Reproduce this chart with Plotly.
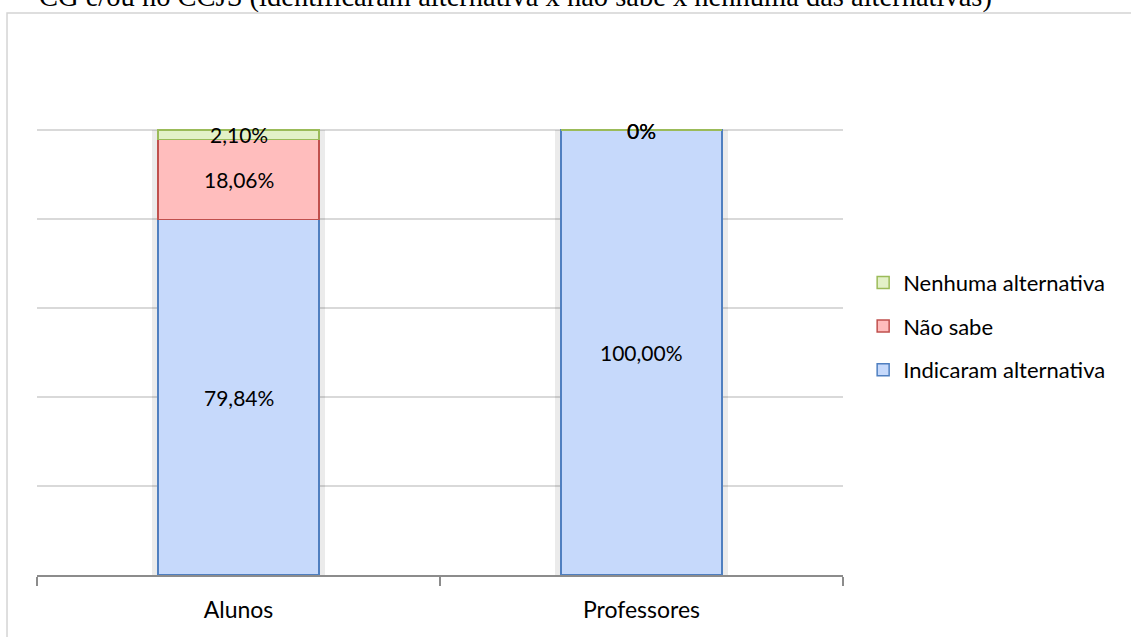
import plotly.graph_objects as go

categories = ["Alunos", "Professores"]
series_names = ["Indicaram alternativa", "Não sabe", "Nenhuma alternativa"]
indicaram = [79.84, 100.00]
nao_sabe = [18.06, 0.0]
nenhuma = [2.10, 0.0]
label_indicaram = ["79,84%", "100,00%"]
label_nao_sabe = ["18,06%", "0%"]
label_nenhuma = ["2,10%", "0%"]
title_text = "CG e/ou no CCJS (identificaram alternativa x não sabe x nenhuma das alternativas)"

values = [indicaram, nao_sabe, nenhuma]
labels = [label_indicaram, label_nao_sabe, label_nenhuma]
fills = ["#c6d9fb", "#ffbdbd", "#e3f1c8"]
lines = ["#4f7fc0", "#c0504d", "#9bbb59"]
ranks = [3, 2, 1]

FONT = "Lato"
fig = go.Figure()

# soft shadow behind the stacked bars (totals), on the lower axis layer
totals = [sum(v[i] for v in values) for i in range(len(categories))]
fig.add_trace(go.Bar(x=categories, y=totals, xaxis="x", width=0.43,
                     marker=dict(color="rgba(0,0,0,0.08)", line=dict(width=0)),
                     showlegend=False, hoverinfo="skip"))

for k, name in enumerate(series_names):
    fig.add_trace(go.Bar(
        x=categories, y=values[k], name=name, width=0.4, xaxis="x2",
        marker=dict(color=fills[k], line=dict(color=lines[k], width=1.5)),
        legendgroup=name, legendrank=ranks[k],
    ))

annotations = []
for i, cat in enumerate(categories):
    base = 0
    for k in range(len(series_names)):
        v = values[k][i]
        annotations.append(dict(x=cat, y=base + v / 2, xref="x", yref="y",
                                text=labels[k][i], showarrow=False,
                                font=dict(family=FONT, size=21, color="#000000")))
        base += v

annotations.append(dict(x=0, y=1.083, xref="paper", yref="paper", xanchor="left",
                        yanchor="middle", text=title_text, showarrow=False,
                        font=dict(family="Liberation Serif", size=28.5, color="#000000"),
                        ))

fig.update_layout(
    width=1131, height=637,
    margin=dict(l=37, r=288, t=41, b=62),
    paper_bgcolor="white", plot_bgcolor="white",
    barmode="stack",
    showlegend=True,
    legend=dict(x=1.025, y=0.466, xanchor="left", yanchor="middle",
                traceorder="grouped", tracegroupgap=12,
                font=dict(family=FONT, size=22, color="#000000")),
    xaxis=dict(type="category", showline=True, linecolor="#8c8c8c", linewidth=1.5,
               ticks="outside", ticklen=9, tickcolor="#8c8c8c", tickwidth=1.5,
               tickson="boundaries", showgrid=False, ticklabelstandoff=14,
               tickfont=dict(family=FONT, size=23, color="#000000")),
    xaxis2=dict(type="category", overlaying="x", visible=False, matches="x"),
    yaxis=dict(range=[0, 120], dtick=20, showgrid=True, gridcolor="#d9d9d9",
               gridwidth=1.5, showticklabels=False, zeroline=False, showline=False),
    annotations=annotations,
    shapes=[dict(type="rect", xref="paper", yref="paper", x0=-0.0372, x1=1.5,
                 y0=-0.2, y1=1.0524, line=dict(color="#d4d4d4", width=1.5),
                 fillcolor="rgba(0,0,0,0)", layer="below")],
)

fig.write_html("out.html")
